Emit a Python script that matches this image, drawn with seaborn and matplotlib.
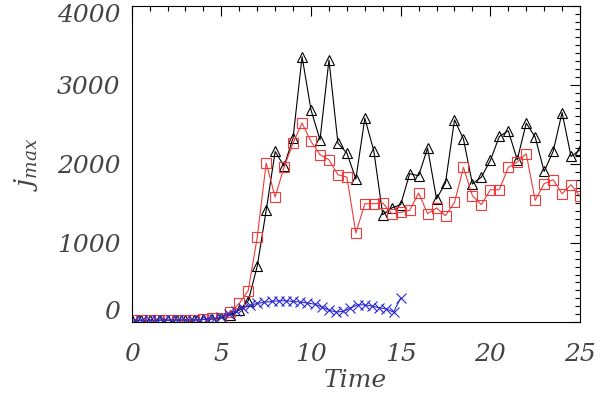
import numpy as np
import matplotlib
matplotlib.use('Agg')
import matplotlib.pyplot as plt
import seaborn as sns
from matplotlib.ticker import MultipleLocator, FuncFormatter

# time grid of the black / red runs (every 0.5)
t_main = [0.0, 0.5, 1.0, 1.5, 2.0, 2.5, 3.0, 3.5, 4.0, 4.5,
          5.0, 5.5, 6.0, 6.5, 7.0, 7.5, 8.0, 8.5, 9.0, 9.5,
          10.0, 10.5, 11.0, 11.5, 12.0, 12.5, 13.0, 13.5, 14.0, 14.5,
          15.0, 15.5, 16.0, 16.5, 17.0, 17.5, 18.0, 18.5, 19.0, 19.5,
          20.0, 20.5, 21.0, 21.5, 22.0, 22.5, 23.0, 23.5, 24.0, 24.5, 25.0]

j_black = [20, 20, 20, 21, 22, 23, 25, 28, 32, 40,
           50, 90, 150, 268, 705, 1412, 2157, 1970, 2330, 3356,
           2680, 2304, 3314, 2262, 2136, 1808, 2578, 2165, 1357, 1442,
           1484, 1875, 1850, 2199, 1556, 1762, 2557, 2313, 1745, 1833,
           2043, 2346, 2418, 2052, 2515, 2338, 1904, 2157, 2649, 2093, 2178]

j_red = [20, 20, 20, 21, 22, 23, 25, 28, 32, 45,
         55, 129, 234, 398, 1071, 2010, 1581, 1960, 2263, 2515,
         2283, 2115, 2052, 1862, 1833, 1126, 1496, 1496, 1505, 1370,
         1386, 1412, 1631, 1370, 1442, 1345, 1513, 1955, 1597, 1484,
         1673, 1673, 1955, 2023, 2128, 1538, 1749, 1799, 1622, 1736, 1588]

# blue run is sampled a bit finer and stops at t = 15
t_blue = [0.2, 0.6, 1.0, 1.4, 1.8, 2.2, 2.6, 3.0, 3.4, 3.8,
          4.2, 4.6, 5.0, 5.4, 5.8, 6.2, 6.6, 7.0, 7.4, 7.8,
          8.2, 8.6, 9.0, 9.4, 9.8, 10.2, 10.6, 11.0, 11.4, 11.8,
          12.2, 12.6, 13.0, 13.4, 13.8, 14.2, 14.6, 15.0]

j_blue = [22, 22, 22, 22, 23, 23, 24, 25, 26, 28,
          32, 40, 60, 100, 140, 180, 210, 235, 250, 260,
          268, 268, 260, 252, 240, 225, 190, 150, 126, 135,
          175, 220, 215, 200, 180, 165, 125, 305]

y_end_labels = [0, 4000]

sns.set_style("white")
plt.rcParams['font.family'] = ['DejaVu Serif']
plt.rcParams['mathtext.fontset'] = 'dejavuserif'

fig = plt.figure(figsize=(6, 3.99), dpi=100)
ax = fig.add_axes([0.2195, 0.193, 0.7472, 0.7927])

red = '#f03a3a'
blue = '#2a2ad0'
grey = '#444444'
sns.lineplot(x=t_main, y=j_black, ax=ax, color='black', lw=0.8,
             marker='^', markersize=7, markerfacecolor='none',
             markeredgecolor='black', markeredgewidth=0.8)
sns.lineplot(x=t_main, y=j_red, ax=ax, color=red, lw=0.8,
             marker='s', markersize=7, markerfacecolor='none',
             markeredgecolor=red, markeredgewidth=0.8)
sns.lineplot(x=t_blue, y=j_blue, ax=ax, color=blue, lw=0.8,
             marker='x', markersize=7, markeredgecolor=blue,
             markeredgewidth=0.8)

ax.set_xlim(0, 25)
ax.set_ylim(0, 4000)
ax.xaxis.set_major_locator(MultipleLocator(5))
ax.xaxis.set_minor_locator(MultipleLocator(1))
ax.yaxis.set_major_locator(MultipleLocator(1000))
ax.yaxis.set_minor_locator(MultipleLocator(100))
# end labels are drawn separately, nudged inside like IDL does
ax.yaxis.set_major_formatter(FuncFormatter(lambda v, p: '' if v in y_end_labels else '%d' % v))
ax.tick_params(which='both', direction='in', top=True, right=True,
               color='black', width=0.8)
ax.tick_params(which='major', length=7)
ax.tick_params(which='minor', length=3.5)
ax.tick_params(axis='x', which='major', pad=15, labelsize=18, labelcolor=grey)
ax.tick_params(axis='y', which='major', pad=8, labelsize=18, labelcolor=grey)
for lab in ax.get_xticklabels() + ax.get_yticklabels():
    lab.set_fontstyle('italic')
for s in ax.spines.values():
    s.set_color('black')
    s.set_linewidth(0.8)

for v, dy in zip(y_end_labels, [7, -7]):
    ax.annotate('%d' % v, xy=(0, v), xycoords=('axes fraction', 'data'),
                xytext=(-8, dy), textcoords='offset points',
                ha='right', va='center', fontsize=18, fontstyle='italic',
                color=grey)

ax.set_xlabel('Time', fontsize=18, fontstyle='italic', color=grey, labelpad=2)
ax.set_ylabel(r'$j_{max}$', fontsize=19, color=grey, labelpad=12)

fig.savefig('out.png', dpi=100)
